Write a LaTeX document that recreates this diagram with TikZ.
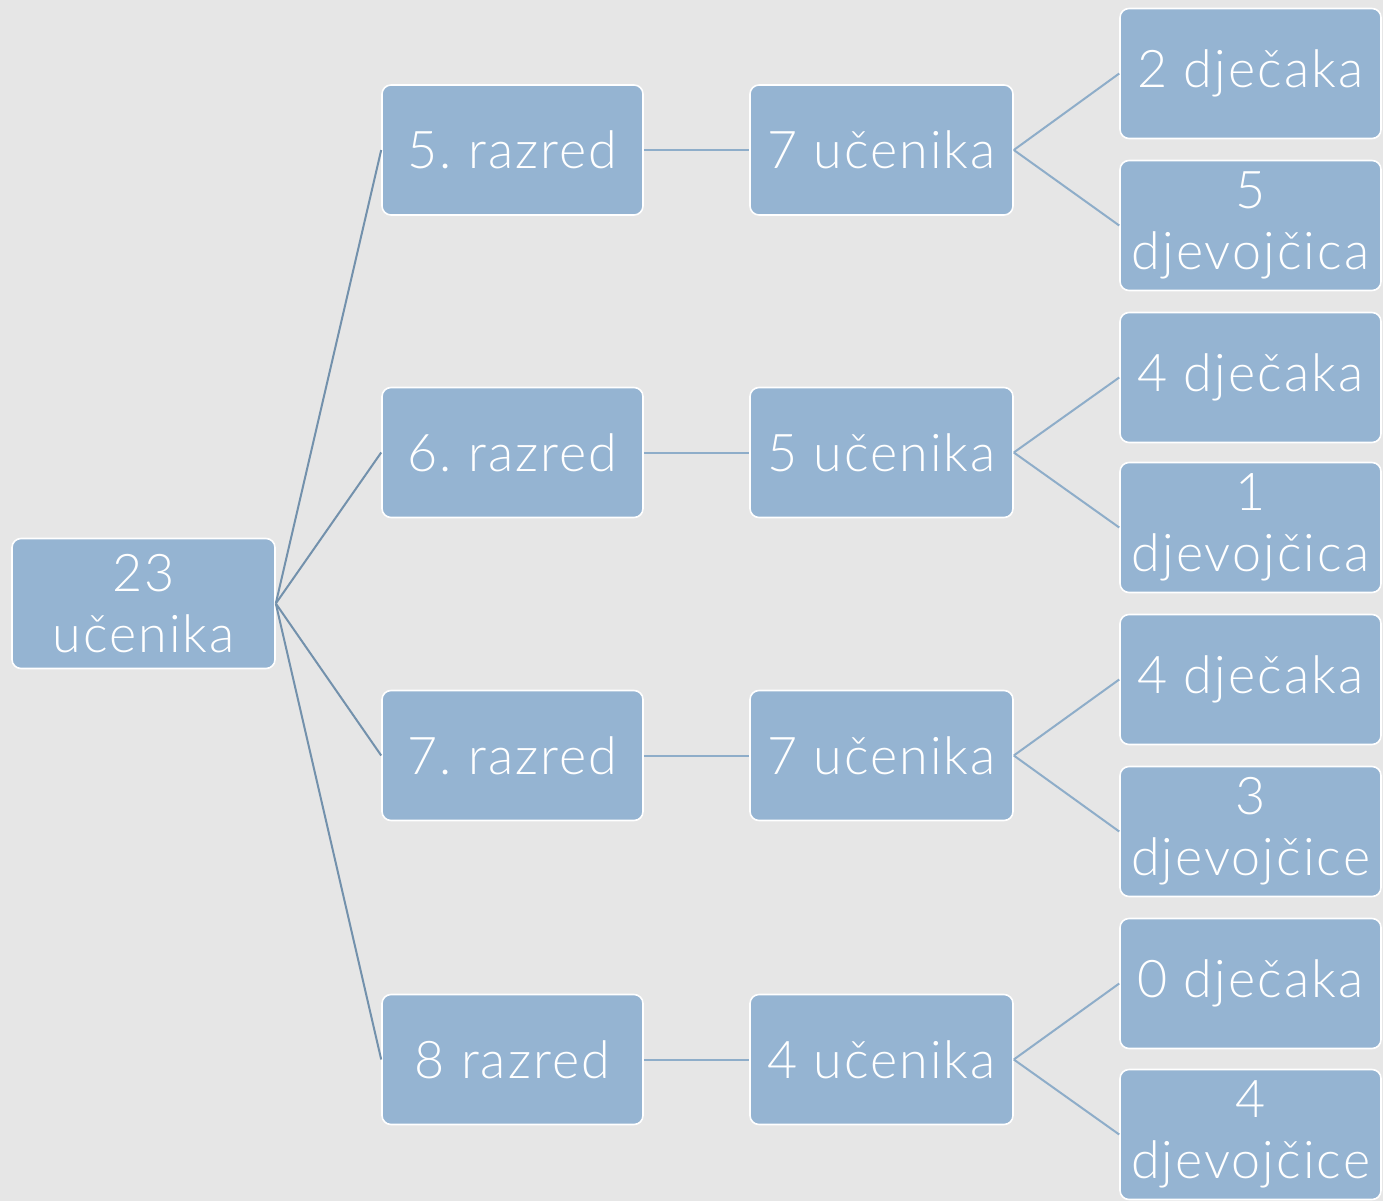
\documentclass[tikz,border=0pt]{standalone}
\usepackage{fontspec}
\setmainfont{Lato}[UprightFont=* Light, LetterSpace=4]
\frenchspacing
\definecolor{bg}{HTML}{E6E6E6}
\definecolor{boxfill}{HTML}{95B4D2}
\definecolor{rootline}{HTML}{7391AC}
\definecolor{subline}{HTML}{8EADC9}
\tikzset{
  box/.style={draw=white, line width=1.6pt, fill=boxfill, rounded corners=9pt,
    minimum width=261pt, minimum height=130pt, text=white, align=center,
    inner sep=0pt, font=\fontsize{52}{61}\selectfont},
  rl/.style={draw=rootline, line width=2pt},
  sl/.style={draw=subline, line width=2pt},
}
\begin{document}
\begin{tikzpicture}[x=1pt,y=-1pt]
\fill[bg] (0,0) rectangle (1383,1201);
\useasboundingbox (0,0) rectangle (1383,1201);
% root
\node[box, minimum width=263pt] (r) at (143.5,603.5) {23\\učenika};
% level 1
\node[box] (a1) at (512.5,150) {5. razred};
\node[box] (a2) at (512.5,452.5) {6. razred};
\node[box] (a3) at (512.5,755.5) {7. razred};
\node[box] (a4) at (512.5,1059.5) {8 razred};
% level 2
\node[box, minimum width=263pt] (b1) at (881.5,150) {7 učenika};
\node[box, minimum width=263pt] (b2) at (881.5,452.5) {5 učenika};
\node[box, minimum width=263pt] (b3) at (881.5,755.5) {7 učenika};
\node[box, minimum width=263pt] (b4) at (881.5,1059.5) {4 učenika};
% level 3
\node[box] (c1) at (1250.5,73.5) {2 dječaka};
\node[box] (c2) at (1250.5,225.5) {5\\djevojčica};
\node[box] (c3) at (1250.5,377.5) {4 dječaka};
\node[box] (c4) at (1250.5,527.5) {1\\djevojčica};
\node[box] (c5) at (1250.5,679.5) {4 dječaka};
\node[box] (c6) at (1250.5,831.5) {3\\djevojčice};
\node[box] (c7) at (1250.5,983.5) {0 dječaka};
\node[box] (c8) at (1250.5,1134.5) {4\\djevojčice};
% connectors
\foreach \t in {a1,a2,a3,a4}{\draw[rl] (r.east) -- (\t.west);}
\foreach \s/\t in {a1/b1,a2/b2,a3/b3,a4/b4}{\draw[sl] (\s.east) -- (\t.west);}
\foreach \s/\t in {b1/c1,b1/c2,b2/c3,b2/c4,b3/c5,b3/c6,b4/c7,b4/c8}{\draw[sl] (\s.east) -- (\t.west);}
\end{tikzpicture}
\end{document}
